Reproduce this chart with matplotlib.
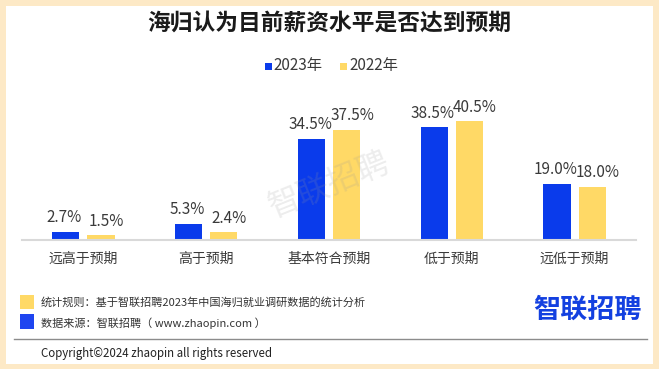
import matplotlib
matplotlib.use("Agg")
import matplotlib.pyplot as plt
from matplotlib.patches import Rectangle
import numpy as np

plt.rcParams['font.family'] = ['Noto Sans CJK SC', 'DejaVu Sans']

categories = ["远高于预期", "高于预期", "基本符合预期", "低于预期", "远低于预期"]
values_2023 = [2.7, 5.3, 34.5, 38.5, 19.0]
values_2022 = [1.5, 2.4, 37.5, 40.5, 18.0]
series_names = ["2023年", "2022年"]
title = "海归认为目前薪资水平是否达到预期"
note_rule = "统计规则：基于智联招聘2023年中国海归就业调研数据的统计分析"
note_source = "数据来源：智联招聘（ www.zhaopin.com ）"
copyright_text = "Copyright©2024 zhaopin all rights reserved"
logo_text = "智联招聘"

BLUE = "#0A3BEB"
YELLOW = "#FFD966"
BORDER = "#FDE9C6"
TXT = "#3A3A3A"

W, H = 659, 369
fig = plt.figure(figsize=(W / 100, H / 100), dpi=100)
fig.patch.set_facecolor("white")

def fx(px):
    return px / W

def fy(py):
    return 1 - py / H

# border
b = 6
for (x0, y0, w, h) in [(0, 0, W, b), (0, H - 5, W, 5), (0, 0, b, H), (W - b, 0, b, H)]:
    fig.patches.append(Rectangle((fx(x0), fy(y0 + h)), w / W, h / H,
                                 transform=fig.transFigure, facecolor=BORDER,
                                 edgecolor="none", zorder=0))

# axes
base_y = 239.5
px_per_unit = 2.92
ymax = 50
top_y = base_y - ymax * px_per_unit
ax = fig.add_axes([fx(22), fy(base_y), (636 - 22) / W, (base_y - top_y) / H])
ax.set_facecolor("none")
x = np.arange(len(categories))
bw = 0.222
off = 0.143
b1 = ax.bar(x - off, values_2023, bw, color=BLUE, zorder=2)
b2 = ax.bar(x + off, values_2022, bw, color=YELLOW, zorder=2)
ax.set_xlim(-0.5, len(categories) - 0.5)
ax.set_ylim(0, ymax)
for s in ["top", "right", "left"]:
    ax.spines[s].set_visible(False)
ax.spines["bottom"].set_color("#D9D9D9")
ax.spines["bottom"].set_linewidth(1.5)
ax.set_yticks([])
ax.set_xticks(x)
ax.set_xticklabels(categories, fontsize=10, color=TXT)
ax.tick_params(axis="x", length=0, pad=9)

for rects, vals, dx in [(b1, values_2023, -1), (b2, values_2022, 4)]:
    for r, v in zip(rects, vals):
        ax.annotate(f"{v:.1f}%", (r.get_x() + r.get_width() / 2, r.get_height()),
                    xytext=(dx, 4), textcoords="offset points",
                    ha="center", va="bottom", fontsize=11, color=TXT)

# title
fig.text(0.5, fy(23), title, ha="center", va="center", fontsize=16.4,
         fontweight="bold", color="#1A1A1A")

# legend
for sx, tx, col, name in [(265, 273, BLUE, series_names[0]), (340, 349, YELLOW, series_names[1])]:
    fig.patches.append(Rectangle((fx(sx), fy(69.5)), 6.5 / W, 6.5 / H,
                                 transform=fig.transFigure, facecolor=col,
                                 edgecolor="none"))
    fig.text(fx(tx), fy(65.5), name, ha="left", va="center", fontsize=11, color=TXT)

# watermark
fig.text(fx(329), fy(186), logo_text, ha="center", va="center", fontsize=23,
         rotation=22, color="#9A9A9A", alpha=0.18, zorder=5)

# footer
fig.patches.append(Rectangle((fx(20), fy(309)), 14 / W, 14 / H, transform=fig.transFigure,
                             facecolor=YELLOW, edgecolor="none"))
fig.patches.append(Rectangle((fx(20), fy(329)), 14 / W, 15 / H, transform=fig.transFigure,
                             facecolor="#1F45F0", edgecolor="none"))
fig.text(fx(41), fy(302), note_rule, ha="left", va="center", fontsize=8, color="#333333")
fig.text(fx(41), fy(323), note_source, ha="left", va="center", fontsize=8, color="#333333")
fig.text(fx(642), fy(310), logo_text, ha="right", va="center", fontsize=19.5,
         fontweight="bold", color="#1340E0")
fig.add_artist(plt.Line2D([fx(14), fx(647)], [fy(339), fy(339)], transform=fig.transFigure,
                          color="#8C8C8C", linewidth=1))
fig.text(fx(41), fy(353), copyright_text, ha="left", va="center", fontsize=8.3, color="#222222")

fig.savefig("out.png", dpi=100)
